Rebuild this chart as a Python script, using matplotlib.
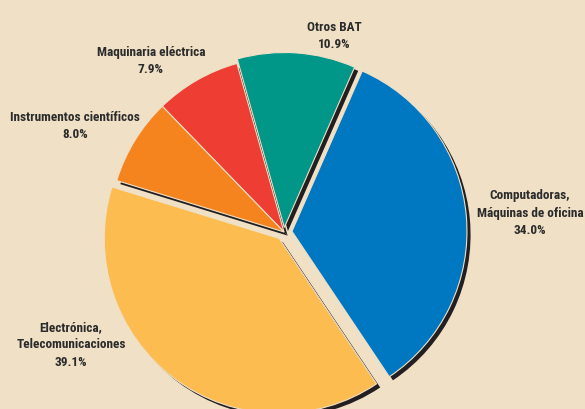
import matplotlib.pyplot as plt
from matplotlib import font_manager

# datos
labels = ['Computadoras,\nMáquinas de oficina', 'Otros BAT', 'Maquinaria eléctrica',
          'Instrumentos científicos', 'Electrónica,\nTelecomunicaciones']
values = [34.0, 10.9, 7.9, 8.0, 39.1]
colors = ['#0077c1', '#009688', '#ee3e33', '#f5841f', '#fdbc50']
explode = [8, 4.5, 0, 0, 8]  # en px (unidades de datos)

# posiciones de las etiquetas (px, desde arriba)
label_pos = [(530, 213), (334, 36), (151, 61), (75, 126), (71, 345)]

bg = '#efe0c6'
W, H = 585, 409

# fuente estrecha si existe
names = {f.name for f in font_manager.fontManager.ttflist}
font, fsize, lsp = 'Roboto', 8, 1.6
for cand in ['Roboto Condensed', 'Liberation Sans Narrow', 'Open Sans Condensed']:
    if cand in names:
        font, fsize, lsp = cand, 9.5, 1.4
        break

fig = plt.figure(figsize=(W / 100, H / 100), dpi=100, facecolor=bg)
ax = fig.add_axes([0, 0, 1, 1])
ax.set_facecolor(bg)

ax.pie(values, colors=colors, explode=explode, startangle=-56.2,
       center=(284, H - 232), radius=175, counterclock=True,
       wedgeprops=dict(edgecolor=bg, linewidth=0.8),
       shadow=dict(ox=2.6, oy=-2.6, facecolor='#231f20', edgecolor='#231f20',
                   alpha=1, linewidth=0))

for lab, v, (x, y) in zip(labels, values, label_pos):
    ax.text(x, H - y, f'{lab}\n{v:.1f}%', ha='center', va='center',
            fontsize=fsize, fontweight='bold', color='#2b2b2b',
            linespacing=lsp, family=[font, 'DejaVu Sans'])

ax.set_xlim(0, W)
ax.set_ylim(0, H)
ax.set_aspect('equal')
ax.axis('off')

fig.savefig('out.png', dpi=100, facecolor=bg)
